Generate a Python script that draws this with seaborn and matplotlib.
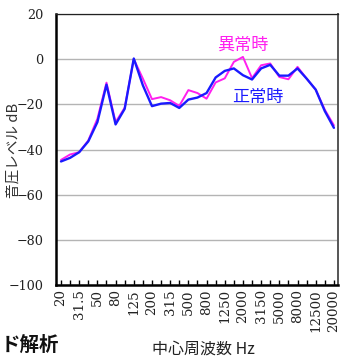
import numpy as np
import pandas as pd
import matplotlib
matplotlib.use("Agg")
import matplotlib.pyplot as plt
import seaborn as sns

# 1/3-octave band centre frequencies (Hz)
freqs = ["20", "25", "31.5", "40", "50", "63", "80", "100", "125", "160",
         "200", "250", "315", "400", "500", "630", "800", "1000", "1250", "1600",
         "2000", "2500", "3150", "4000", "5000", "6300", "8000", "10000", "12500",
         "16000", "20000"]

# sound pressure level per band (dB)
normal = [-45.3, -43.7, -41.2, -36.4, -27.9, -11.3, -28.9, -22.0, 0.3, -11.6,
          -20.8, -19.7, -19.4, -21.6, -17.9, -17.0, -15.0, -8.1, -5.2, -4.1,
          -7.1, -9.0, -4.1, -2.5, -7.3, -7.3, -4.1, -8.6, -13.5, -23.0, -30.4]
abnormal = [-44.6, -42.2, -41.2, -36.0, -26.4, -10.4, -27.9, -21.5, 0.0, -8.6,
            -17.7, -16.8, -18.2, -20.7, -13.7, -15.0, -17.5, -10.3, -8.5, -1.2,
            1.0, -8.4, -2.7, -1.9, -7.9, -8.9, -3.4, -8.6, -13.5, -22.4, -29.3]

series_names = ["異常時", "正常時"]
series_colors = ["#ff1fef", "#1a1aff"]

df = pd.DataFrame({
    "band": list(range(len(freqs))) * 2,
    "level": abnormal + normal,
    "state": [series_names[0]] * len(freqs) + [series_names[1]] * len(freqs),
})

sns.set_theme(style="white")
plt.rcParams["font.family"] = ["DejaVu Serif", "Noto Sans CJK JP"]
plt.rcParams["axes.unicode_minus"] = True

fig = plt.figure(figsize=(3.41, 3.57), dpi=100)
ax = fig.add_axes([56 / 341, 1 - 285 / 357, 282 / 341, 271 / 357])

sns.lineplot(data=df[df.state == series_names[0]], x="band", y="level",
             color=series_colors[0], linewidth=1.4, ax=ax, legend=False, sort=False)
sns.lineplot(data=df[df.state == series_names[1]], x="band", y="level",
             color=series_colors[1], linewidth=1.7, ax=ax, legend=False, sort=False)

ax.set_ylim(-100, 20)
ax.set_xlim(-0.55, len(freqs) - 1 + 0.45)
ax.set_yticks(np.arange(-100, 21, 20))
ax.yaxis.grid(True, color="#b4b4b4", linewidth=1.0)
ax.xaxis.grid(False)
ax.set_axisbelow(True)

ax.set_xticks(range(len(freqs)))
ax.set_xticklabels([f if i % 2 == 0 else "" for i, f in enumerate(freqs)],
                   rotation=90, fontsize=9.6, family="DejaVu Serif", color="#222222")
ax.tick_params(axis="x", direction="in", length=3.5, width=1, color="black",
               pad=3, bottom=True)
ax.tick_params(axis="y", length=0, pad=9, labelsize=9.2, labelcolor="#222222")
for lbl in ax.get_yticklabels():
    lbl.set_family("DejaVu Serif")

ax.set_xlabel("")
ax.set_ylabel("")

for side in ("left", "bottom"):
    ax.spines[side].set_color("black")
    ax.spines[side].set_linewidth(1.8)
ax.spines["top"].set_color("#222222")
ax.spines["top"].set_linewidth(0.9)
ax.spines["right"].set_color("#555555")
ax.spines["right"].set_linewidth(1.4)

ax.text(20.0, 6.2, series_names[0], color=series_colors[0], fontsize=12.3,
        family="Noto Sans CJK JP", ha="center", va="center")
ax.text(21.6, -16.9, series_names[1], color=series_colors[1], fontsize=12.3,
        family="Noto Sans CJK JP", ha="center", va="center")

fig.text(14 / 341, 1 - 150 / 357, "音圧レベル dB", rotation=90, fontsize=10.5,
         family=["Noto Sans CJK JP", "DejaVu Sans"], color="#333333",
         ha="center", va="center")
fig.text(203 / 341, 1 - 349 / 357, "中心周波数 Hz", fontsize=11.5,
         family=["Noto Sans CJK JP", "DejaVu Serif"], color="#222222",
         ha="center", va="center")
fig.text(1 / 341, 1 - 345 / 357, "ド解析", fontsize=14, fontweight="bold",
         family=["Noto Sans CJK JP", "DejaVu Sans"], color="#111111",
         ha="left", va="center")

fig.savefig("out.png", dpi=100)
